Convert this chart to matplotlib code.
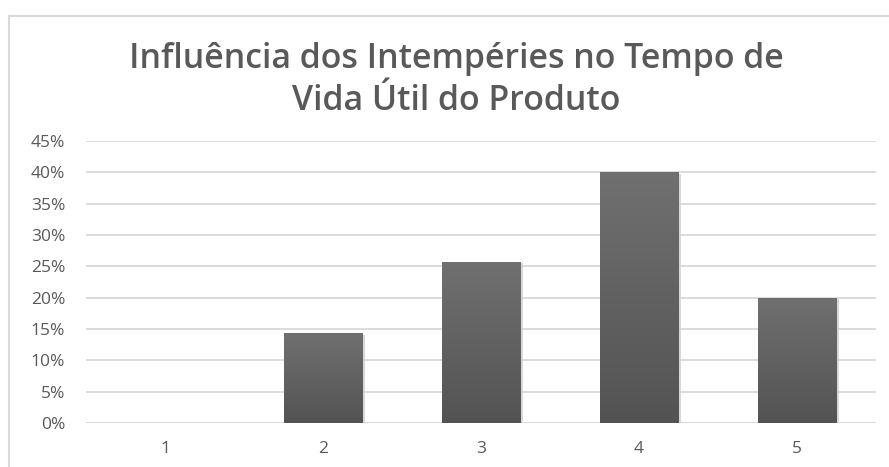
import matplotlib
matplotlib.use("Agg")
import matplotlib.pyplot as plt
import numpy as np
from matplotlib.lines import Line2D
from matplotlib.ticker import FuncFormatter, MultipleLocator
from matplotlib.colors import LinearSegmentedColormap

categories = ["1", "2", "3", "4", "5"]
values = [0.0, 14.29, 25.71, 40.0, 20.0]
title = "Influência dos Intempéries no Tempo de\nVida Útil do Produto"

W, H = 889, 467
fig = plt.figure(figsize=(W / 100, H / 100), dpi=100)
fig.patch.set_facecolor("white")

# chart frame (top and left edges visible)
fig.add_artist(Line2D([9 / W, 1], [1 - 16 / H, 1 - 16 / H], color="#d9d9d9", lw=1.5))
fig.add_artist(Line2D([9 / W, 9 / W], [0, 1 - 16 / H], color="#d9d9d9", lw=1.5))

left, right = 86 / W, 876 / W
bottom, top = 1 - 423 / H, 1 - 141 / H
ax = fig.add_axes([left, bottom, right - left, top - bottom])

x = np.arange(1, len(categories) + 1)
bars = ax.bar(x, values, width=0.5, color="#5f5f5f", zorder=3, edgecolor="none")

# vertical gradient inside each bar
grad = np.linspace(0, 1, 256).reshape(-1, 1)
cmap = LinearSegmentedColormap.from_list("g", ["#535353", "#707070"])
for b in bars:
    h = b.get_height()
    if h <= 0:
        continue
    bx, bw = b.get_x(), b.get_width()
    # soft shadow
    ax.bar(bx + bw / 2 + 0.012, h, width=bw + 0.01, bottom=-0.25, color="#cfcfcf",
           zorder=2, edgecolor="none", alpha=0.8)
    im = ax.imshow(grad, extent=[bx, bx + bw, 0, h], origin="lower", cmap=cmap,
                   aspect="auto", zorder=4)
    im.set_clip_path(b)

ax.set_xlim(0.5, 5.5)
ax.set_ylim(0, 45)
ax.yaxis.set_major_locator(MultipleLocator(5))
ax.yaxis.set_major_formatter(FuncFormatter(lambda v, p: f"{int(round(v))}%"))
ax.set_xticks(x)
ax.set_xticklabels(categories)

ax.grid(axis="y", color="#d9d9d9", lw=1.3, zorder=0)
ax.set_axisbelow(True)
for s in ax.spines.values():
    s.set_visible(False)
ax.tick_params(axis="both", length=0, colors="#595959", labelsize=12.5)
ax.tick_params(axis="y", pad=15)
ax.tick_params(axis="x", pad=13)
for lab in ax.get_xticklabels() + ax.get_yticklabels():
    lab.set_fontfamily("Open Sans")
ax.axhline(0, color="#d9d9d9", lw=1.3, zorder=1)

fig.text(456 / W, 1 - 80 / H, title, ha="center", va="center", fontsize=24.4,
         color="#595959", fontfamily="Open Sans", fontweight="semibold",
         linespacing=1.3)

fig.savefig("out.png", dpi=100, facecolor="white")
